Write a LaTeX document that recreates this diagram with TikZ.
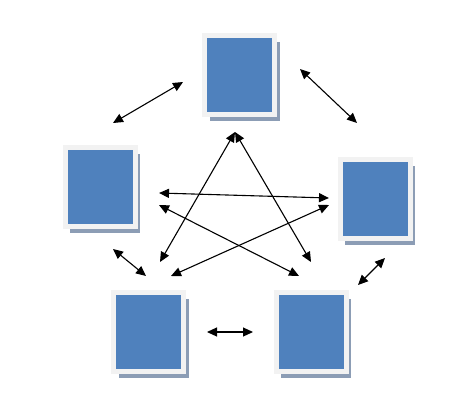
\documentclass[tikz,border=0pt]{standalone}
\usetikzlibrary{arrows.meta,shadows}
\definecolor{tileblue}{HTML}{4F81BD}
\definecolor{tileframe}{HTML}{F2F2F2}
\definecolor{tileshadow}{HTML}{8C9DB5}

\begin{document}
\begin{tikzpicture}[x=1pt,y=-1pt,
            tile/.style={rectangle, fill=tileblue, draw=tileframe, line width=5pt,
                minimum width=70pt, minimum height=79pt, inner sep=0pt,
                drop shadow={shadow xshift=5pt, shadow yshift=-6.5pt, fill=tileshadow, opacity=1}},
            link/.style={draw=black, line width=1.1pt, {Triangle[length=10pt,width=9pt]}-{Triangle[length=10pt,width=9pt]}}]
            \useasboundingbox (0,0) rectangle (476,410);
            % the five tiles
            \node[tile] (t1) at (239.5,75){};
            \node[tile] (t2) at (100,186.5){};
            \node[tile] (t3) at (375,199){};
            \node[tile] (t4) at (148.5,332){};
            \node[tile] (t5) at (311,332){};
            % arrow ends
            \coordinate (a1) at (113,123);
            \coordinate (b1) at (183,82);
            \coordinate (a2) at (300,69);
            \coordinate (b2) at (357,123);
            \coordinate (a3) at (113,249);
            \coordinate (b3) at (146,276);
            \coordinate (a4) at (358,285);
            \coordinate (b4) at (385,258);
            \coordinate (a5) at (207,332);
            \coordinate (b5) at (253,332);
            \coordinate (s1) at (235,132);
            \coordinate (s2) at (160,262);
            \coordinate (s3) at (311,262);
            \coordinate (s4) at (159,193);
            \coordinate (s5) at (329,198);
            \coordinate (s6) at (159,205);
            \coordinate (s7) at (299,276);
            \coordinate (s8) at (171,276);
            \coordinate (s9) at (329,205);
            \draw[link] (a1) -- (b1);
            \draw[link] (a2) -- (b2);
            \draw[link] (a3) -- (b3);
            \draw[link] (a4) -- (b4);
            \draw[link] (a5) -- (b5);
            \draw[link] (s1) -- (s2);
            \draw[link] (s1) -- (s3);
            \draw[link] (s4) -- (s5);
            \draw[link] (s6) -- (s7);
            \draw[link] (s8) -- (s9);
        \end{tikzpicture}
\end{document}
